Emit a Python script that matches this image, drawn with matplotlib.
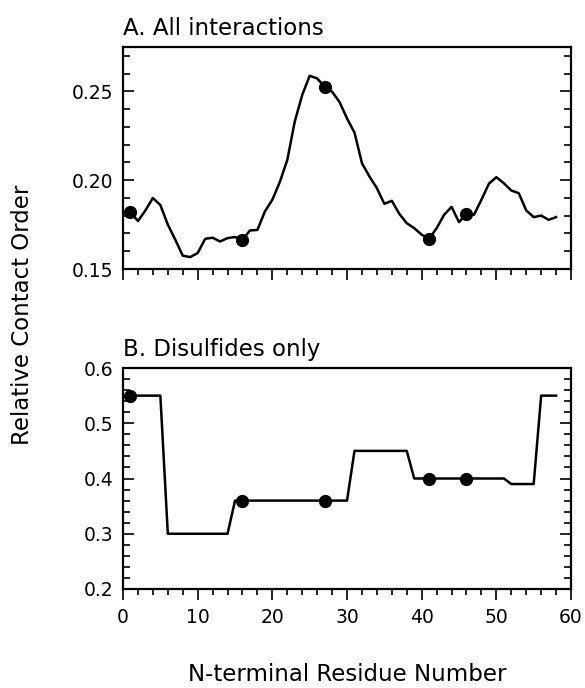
import matplotlib
matplotlib.use("Agg")
import matplotlib.pyplot as plt
from matplotlib.ticker import MultipleLocator, FormatStrFormatter

# residue numbers
residues = list(range(1, 59))

# A. relative contact order, all interactions
rco_all = [0.182, 0.177, 0.183, 0.190, 0.186, 0.175, 0.1665, 0.1575, 0.1567, 0.159,
           0.167, 0.1676, 0.1655, 0.1674, 0.168, 0.1665, 0.1717, 0.172, 0.1824, 0.189,
           0.199, 0.2114, 0.233, 0.248, 0.2588, 0.2573, 0.2526, 0.2498, 0.244, 0.2348,
           0.2268, 0.2096, 0.2021, 0.1955, 0.1867, 0.1884, 0.1811, 0.1758, 0.173, 0.1693,
           0.167, 0.173, 0.1805, 0.185, 0.1764, 0.181, 0.1805, 0.189, 0.198, 0.2017,
           0.1983, 0.1942, 0.1927, 0.183, 0.1792, 0.1801, 0.1777, 0.1792]

# B. relative contact order, disulfides only
rco_ss = ([0.55] * 5 + [0.30] * 9 + [0.36] * 16 + [0.45] * 8 +
          [0.40] * 13 + [0.39] * 4 + [0.55] * 3)

# residues marked with dots
marked = [1, 16, 27, 41, 46]

fig = plt.figure(figsize=(5.85, 6.88), dpi=100)
ax1 = fig.add_axes([0.2103, 0.609, 0.7658, 0.3227])
ax2 = fig.add_axes([0.2103, 0.1439, 0.7658, 0.3212])

panels = [
    (ax1, rco_all, "A. All interactions", (0.15, 0.275), 0.05, 0.01, "%.2f"),
    (ax2, rco_ss, "B. Disulfides only", (0.2, 0.6), 0.1, 0.02, "%.1f"),
]

for ax, vals, title, ylim, ymaj, ymin, fmt in panels:
    ax.plot(residues, vals, color="black", lw=1.8, zorder=2)
    mx = [r for r in marked]
    my = [vals[residues.index(r)] for r in marked]
    ax.plot(mx, my, "o", color="black", ms=8.5, zorder=3)

    ax.set_xlim(0, 60)
    ax.set_ylim(*ylim)
    ax.xaxis.set_major_locator(MultipleLocator(10))
    ax.xaxis.set_minor_locator(MultipleLocator(2))
    ax.yaxis.set_major_locator(MultipleLocator(ymaj))
    ax.yaxis.set_minor_locator(MultipleLocator(ymin))
    ax.yaxis.set_major_formatter(FormatStrFormatter(fmt))

    ax.tick_params(axis="x", which="both", direction="out", top=False, bottom=True,
                   labelsize=13.5, pad=5.5, width=1.2)
    ax.tick_params(axis="x", which="major", length=8)
    ax.tick_params(axis="x", which="minor", length=4)
    ax.tick_params(axis="y", which="both", direction="in", left=True, right=True,
                   labelsize=13.5, pad=7, width=1.2)
    ax.tick_params(axis="y", which="major", length=8)
    ax.tick_params(axis="y", which="minor", length=5)

    for sp in ax.spines.values():
        sp.set_linewidth(1.6)

    ax.set_title(title, loc="left", fontsize=16.5, pad=8.5)

ax1.tick_params(axis="x", labelbottom=False)

ax2.set_xlabel("N-terminal Residue Number", fontsize=16.5, labelpad=26)
fig.text(0.038, 1 - 315 / 688, "Relative Contact Order", rotation=90,
         fontsize=16.5, ha="center", va="center")

plt.savefig("out.png", dpi=100)
